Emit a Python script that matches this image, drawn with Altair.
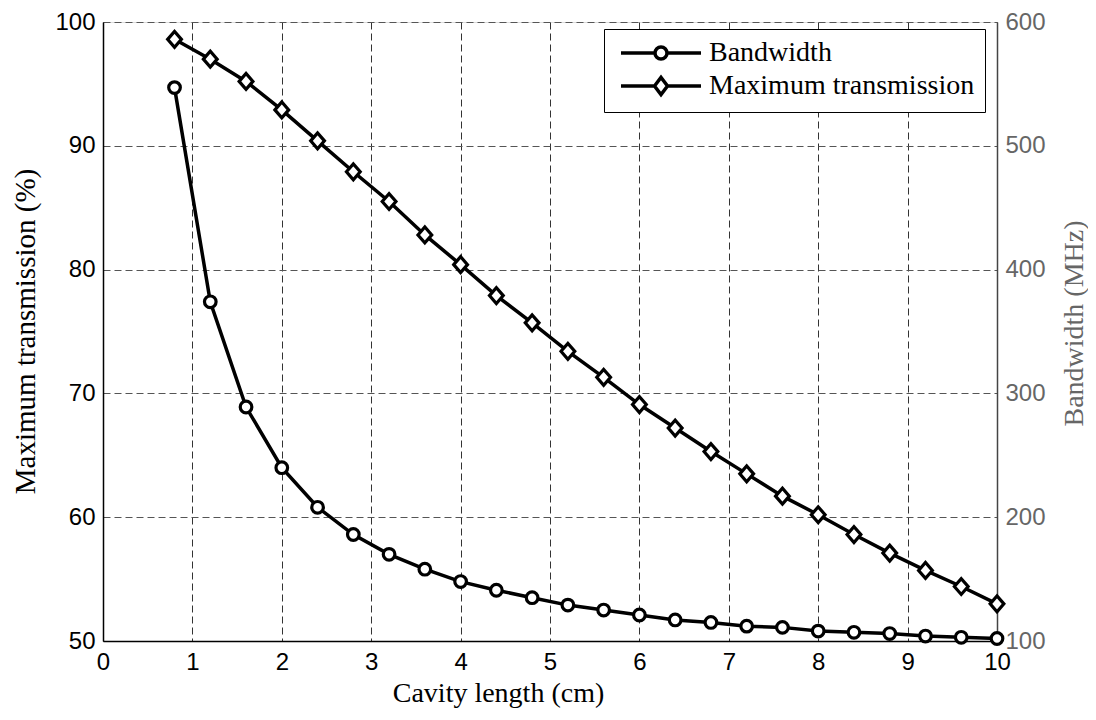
import altair as alt
import pandas as pd

# ---- data ----
cavity_cm = [0.8, 1.2, 1.6, 2.0, 2.4, 2.8, 3.2, 3.6, 4.0, 4.4, 4.8, 5.2,
             5.6, 6.0, 6.4, 6.8, 7.2, 7.6, 8.0, 8.4, 8.8, 9.2, 9.6, 10.0]
max_transmission = [98.6, 97.0, 95.2, 92.9, 90.4, 87.9, 85.5, 82.8, 80.4, 77.9, 75.7, 73.4,
                    71.3, 69.1, 67.2, 65.3, 63.5, 61.7, 60.2, 58.6, 57.1, 55.7, 54.4, 53.0]
bandwidth_mhz = [547, 374, 289, 240, 208, 186, 170, 158, 148, 141, 135, 129,
                 125, 121, 117, 115, 112, 111, 108, 107, 106, 104, 103, 102]
series_names = ["Bandwidth", "Maximum transmission"]
x_ticks = [0, 1, 2, 3, 4, 5, 6, 7, 8, 9, 10]
left_ticks = [50, 60, 70, 80, 90, 100]
right_ticks = [100, 200, 300, 400, 500, 600]

df = pd.DataFrame({"x": cavity_cm, "trans": max_transmission, "bw": bandwidth_mhz})

SERIF = "Liberation Serif"
SANS = "Liberation Sans"

diamond_path = "M-0.87,0L0,-1L0.87,0L0,1Z"
circle_leg = "M-4,0L-0.6,0M0.6,0L4,0M-0.6,0A0.6,0.6,0,1,0,0.6,0A0.6,0.6,0,1,0,-0.6,0Z"
diamond_leg = "M-4,0L-0.65,0M0.65,0L4,0M-0.65,0L0,-0.85L0.65,0L0,0.85Z"

x_enc = alt.X(
    "x:Q",
    scale=alt.Scale(domain=[0, 10], nice=False, zero=False),
    axis=alt.Axis(
        values=x_ticks, title="Cavity length (cm)", grid=True, gridDash=[7, 4],
        gridColor="#333333", gridWidth=1, ticks=False, labelPadding=9,
        labelFontSize=24, labelFont=SANS, labelColor="black", labelFlush=False,
        domainColor="black", domainWidth=1.5,
        titleFont=SERIF, titleFontSize=28, titleFontWeight="normal", titleColor="black",
        titleX=395, titleY=52, titleBaseline="middle", titleAlign="center",
    ),
)

y_left = alt.Y(
    "trans:Q",
    scale=alt.Scale(domain=[50, 100], nice=False, zero=False),
    axis=alt.Axis(
        values=left_ticks, title="Maximum transmission (%)", grid=True, gridDash=[7, 4],
        gridColor="#555555", gridWidth=1, ticks=False, labelPadding=8,
        labelFontSize=24, labelFont=SANS, labelColor="black", labelFlush=False,
        domainColor="black", domainWidth=1.5,
        titleFont=SERIF, titleFontSize=29, titleFontWeight="normal", titleColor="black",
        titleX=-78, titleY=309, titleAngle=270, titleBaseline="middle", titleAlign="center",
    ),
)

y_right = alt.Y(
    "bw:Q",
    scale=alt.Scale(domain=[100, 600], nice=False, zero=False),
    axis=alt.Axis(
        orient="right", values=right_ticks, title="Bandwidth (MHz)", grid=False,
        ticks=False, labelPadding=8, labelFontSize=24, labelFont=SANS,
        labelColor="#666666", labelFlush=False, domainColor="#444444", domainWidth=1.5,
        titleFont=SERIF, titleFontSize=28, titleFontWeight="normal", titleColor="#666666",
        titleX=77, titleY=301, titleAngle=270, titleBaseline="middle", titleAlign="center",
    ),
)

base = alt.Chart(df)

trans_line = base.mark_line(color="black", strokeWidth=3.5).encode(x=x_enc, y=y_left)
trans_pts = base.mark_point(shape=diamond_path, size=250, filled=True, fill="white",
                            stroke="black", strokeWidth=3.2, opacity=1).encode(x=x_enc, y=y_left)
left = alt.layer(trans_line, trans_pts)

bw_line = base.mark_line(color="black", strokeWidth=3.5).encode(x=x_enc, y=y_right)
bw_pts = base.mark_point(shape="circle", size=135, filled=True, fill="white",
                         stroke="black", strokeWidth=3.2, opacity=1).encode(x=x_enc, y=y_right)
right = alt.layer(bw_line, bw_pts)

legend_layer = (
    alt.Chart(pd.DataFrame({"series": series_names}))
    .transform_filter("false")
    .mark_point(filled=False, color="black", strokeWidth=3.5, opacity=1)
    .encode(
        shape=alt.Shape(
            "series:N",
            scale=alt.Scale(domain=series_names, range=[circle_leg, diamond_leg]),
            legend=alt.Legend(
                title=None, orient="none", legendX=501, legendY=7,
                symbolSize=400, symbolOffset=33, labelOffset=34,
                symbolStrokeWidth=3.5, symbolStrokeColor="black", symbolOpacity=1,
                labelFont=SERIF, labelFontSize=28, labelColor="black", labelLimit=500,
                strokeColor="black", fillColor="white", padding=10, rowPadding=3,
                cornerRadius=0,
            ),
        )
    )
)

chart = (
    alt.layer(left, right, legend_layer)
    .resolve_scale(y="independent")
    .properties(
        width=894, height=619,
        autosize=alt.AutoSizeParams(type="none"),
        padding={"left": 95, "top": 14, "right": 91, "bottom": 71},
    )
    .configure_view(stroke="black", strokeWidth=1.5)
    .configure(background="white")
)

chart.save("out.html", embed_options={"renderer": "svg", "actions": False})
